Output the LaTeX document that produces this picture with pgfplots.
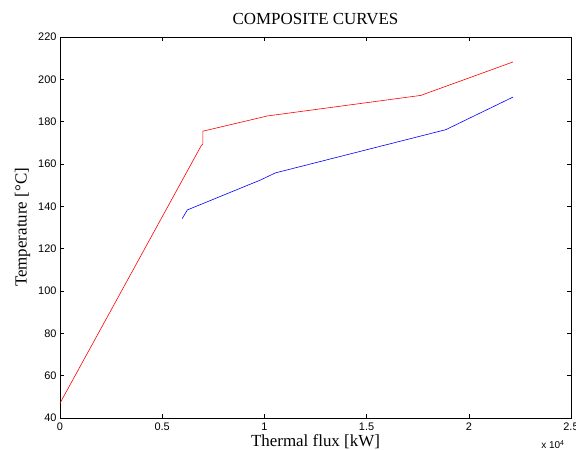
\documentclass[border=0pt]{standalone}
\usepackage{pgfplots}
\pgfplotsset{compat=1.18}
\usepackage{fontspec}
\setmainfont{Liberation Serif}
\newfontfamily\ticksans{Liberation Sans}
\begin{document}
\begin{tikzpicture}[x=1bp,y=1bp]
\useasboundingbox (-60bp,-32bp) rectangle (516bp,418bp);
\begin{axis}[
    at={(0,0)}, anchor=south west,
    scale only axis,
    width=511bp, height=381bp,
    xmin=0, xmax=25000, ymin=40, ymax=220,
    xtick={0,5000,10000,15000,20000,25000},
    xticklabels={0,0.5,1,1.5,2,2.5},
    scaled x ticks=false,
    ytick={40,60,...,220},
    tick align=inside,
    major tick length=4bp,
    axis line style={line width=0.6bp},
    tick style={line width=0.5bp, black},
    /pgf/number format/assume math mode=true,
    ticklabel style={font=\ticksans\fontsize{11}{13}\selectfont},
    xticklabel style={yshift=-1bp},
    title={COMPOSITE CURVES},
    title style={font=\fontsize{17}{19}\selectfont, yshift=3bp},
    xlabel={Thermal flux [kW]},
    ylabel={Temperature [\textdegree C]},
    label style={font=\fontsize{17}{19}\selectfont},
    xlabel style={yshift=3bp},
    ylabel style={yshift=1bp},
    clip=false,
]
\addplot[red, line width=0.6bp] coordinates {
  (0,47) (6900,168.5) (6990,169.5) (6990,175.5) (10150,182.7) (17650,192.4) (22160,208.2)
};
\addplot[blue, line width=0.6bp] coordinates {
  (5980,134.2) (6230,138.3) (9800,152.4) (10540,155.8) (18870,176.2) (22160,191.6)
};
\node[font=\ticksans\fontsize{10}{12}\selectfont, anchor=north east] at (rel axis cs:1,0) [yshift=-19bp, xshift=-3bp] {x 10$^{\mbox{\ticksans\fontsize{7}{8}\selectfont 4}}$};
\end{axis}
\end{tikzpicture}
\end{document}
